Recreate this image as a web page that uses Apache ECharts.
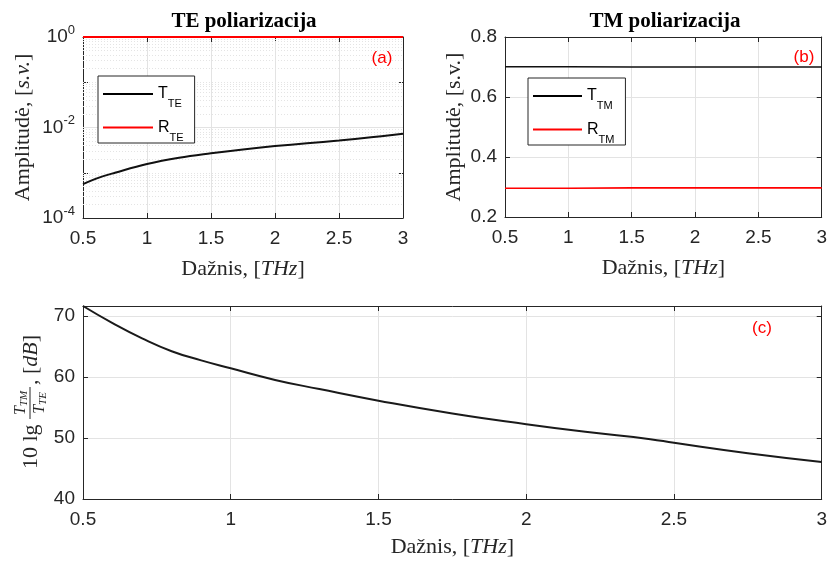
<!DOCTYPE html>
<html>
<head>
<meta charset="utf-8">
<script src="https://cdn.jsdelivr.net/npm/echarts@6/dist/echarts.min.js"></script>
<style>
  html, body { margin: 0; background: #fff; }
  #chart { width: 830px; height: 562px; }
</style>
</head>
<body>
<div id="chart"></div>
<script>
// (a) TE polarization, log axis
const freqA = [0.5, 0.625, 0.75, 1.0, 1.25, 1.5, 1.75, 2.0, 2.25, 2.5, 2.75, 3.0];
const tTE = [5.6e-4, 7.8e-4, 1.0e-3, 1.56e-3, 2.15e-3, 2.7e-3, 3.28e-3, 3.88e-3, 4.48e-3, 5.17e-3, 6.09e-3, 7.24e-3];
const rTE = [0.999, 0.999, 0.999, 0.999, 0.999, 0.999, 0.999, 0.999, 0.999, 0.999, 0.999, 0.999];

// (b) TM polarization
const freqB = [0.5, 1.0, 1.5, 2.0, 2.5, 3.0];
const tTM = [0.701, 0.701, 0.700, 0.700, 0.700, 0.700];
const rTM = [0.296, 0.296, 0.297, 0.297, 0.297, 0.297];

// (c) ratio in dB
const freqC = [0.5, 0.6, 0.7, 0.8, 0.9, 1.0, 1.15, 1.3, 1.5, 1.75, 2.0, 2.2, 2.42, 2.5, 2.75, 3.0];
const ratioDb = [71.6, 68.8, 66.3, 64.2, 62.7, 61.4, 59.5, 58.0, 56.1, 54.0, 52.25, 51.0, 49.8, 49.2, 47.5, 46.07];

const xTicks = { min: 0.5, max: 3, interval: 0.5 };
const AX = "#262626";
const GRID = "#e3e3e3";
const SANS = "Liberation Sans";
const SERIF = "Liberation Serif";

const zip = (xs, ys) => xs.map((x, i) => [x, ys[i]]);

// log grid lines for panel (a): solid at 10^-2, dotted elsewhere
const logGrid = [];
for (let e = -4; e < 0; e++) {
  for (let m = 1; m < 10; m++) {
    if (m === 1 && e === -4) continue;
    const major = m === 1 && e % 2 === 0;
    logGrid.push({
      yAxis: m * Math.pow(10, e),
      lineStyle: major
        ? { color: GRID, type: "solid", width: 1 }
        : { color: "#e4e4e4", type: [1, 2], width: 1 },
    });
  }
}

const nameStyle = {
  fontFamily: SERIF,
  fontSize: 22,
  color: AX,
  rich: { i: { fontFamily: SERIF, fontSize: 22, fontStyle: "italic", color: AX } },
};

function bottomAxis(gridIndex, nameGap) {
  return {
    type: "value",
    gridIndex,
    ...xTicks,
    axisLine: { show: true, onZero: false, lineStyle: { color: AX, width: 1 } },
    axisTick: { show: true, inside: true, length: 5, lineStyle: { color: AX } },
    axisLabel: { fontFamily: SANS, fontSize: 19, color: AX, margin: 11 },
    splitLine: { show: true, lineStyle: { color: GRID } },
    name: "Dažnis, [{i|THz}]",
    nameLocation: "middle",
    nameGap,
    nameTextStyle: nameStyle,
  };
}

function topAxis(gridIndex) {
  return {
    type: "value",
    gridIndex,
    position: "top",
    ...xTicks,
    axisLine: { show: true, onZero: false, lineStyle: { color: AX, width: 1 } },
    axisTick: { show: true, inside: true, length: 5, lineStyle: { color: AX } },
    axisLabel: { show: false },
    splitLine: { show: false },
  };
}

function legendBox(names, left, top, width) {
  return {
    data: names,
    orient: "vertical",
    left,
    top,
    icon: "rect",
    itemWidth: width,
    itemHeight: 2,
    itemGap: 10,
    padding: [10, 11, 0, 5],
    borderColor: AX,
    borderWidth: 1,
    borderRadius: 0,
    backgroundColor: "#fff",
    formatter: (n) => n[0] + "{s|" + n.slice(2) + "}",
    textStyle: {
      fontFamily: SANS,
      fontSize: 16,
      color: "#000",
      rich: { s: { fontFamily: SANS, fontSize: 11, color: "#000", padding: [20, 0, 0, 0] } },
    },
  };
}

const yLabelBase = { fontFamily: SANS, fontSize: 19, color: AX, margin: 8 };

const option = {
  animation: false,
  backgroundColor: "#fff",
  grid: [
    { left: 83, top: 37, width: 320, height: 181 },
    { left: 505, top: 37, width: 319, height: 180 },
    { left: 83, top: 306, width: 741, height: 193 },
  ],
  xAxis: [
    bottomAxis(0, 40),
    topAxis(0),
    bottomAxis(1, 40),
    topAxis(1),
    bottomAxis(2, 37),
    topAxis(2),
  ],
  yAxis: [
    {
      type: "log",
      gridIndex: 0,
      min: 1e-4,
      max: 1,
      logBase: 10,
      axisLine: { show: true, onZero: false, lineStyle: { color: AX } },
      axisTick: { show: true, inside: true, length: 5, lineStyle: { color: AX } },
      axisLabel: {
        ...yLabelBase,
        formatter: (v) => {
          const e = Math.round(Math.log10(v));
          return e % 2 === 0 ? "10{sup|" + e + "}" : "";
        },
        rich: { sup: { fontFamily: SANS, fontSize: 13, color: AX, padding: [0, 0, 14, 0] } },
      },
      splitLine: { show: false },
      name: "Amplitudė, [{i|s.v.}]",
      nameLocation: "middle",
      nameGap: 49,
      nameRotate: 90,
      nameTextStyle: nameStyle,
    },
    {
      type: "log",
      gridIndex: 0,
      position: "right",
      min: 1e-4,
      max: 1,
      logBase: 10,
      axisLine: { show: true, onZero: false, lineStyle: { color: AX } },
      axisTick: { show: true, inside: true, length: 5, lineStyle: { color: AX } },
      axisLabel: { show: false },
      splitLine: { show: false },
    },
    {
      type: "value",
      gridIndex: 1,
      min: 0.2,
      max: 0.8,
      interval: 0.2,
      axisLine: { show: true, onZero: false, lineStyle: { color: AX } },
      axisTick: { show: true, inside: true, length: 5, lineStyle: { color: AX } },
      axisLabel: { ...yLabelBase, formatter: (v) => v.toFixed(1) },
      splitLine: { show: true, lineStyle: { color: GRID } },
      name: "Amplitudė, [s.v.]",
      nameLocation: "middle",
      nameGap: 40,
      nameRotate: 90,
      nameTextStyle: nameStyle,
    },
    {
      type: "value",
      gridIndex: 1,
      position: "right",
      min: 0.2,
      max: 0.8,
      interval: 0.2,
      axisLine: { show: true, onZero: false, lineStyle: { color: AX } },
      axisTick: { show: true, inside: true, length: 5, lineStyle: { color: AX } },
      axisLabel: { show: false },
      splitLine: { show: false },
    },
    {
      type: "value",
      gridIndex: 2,
      min: 40,
      max: 71.6,
      interval: 10,
      axisLine: { show: true, onZero: false, lineStyle: { color: AX } },
      axisTick: { show: true, inside: true, length: 5, lineStyle: { color: AX } },
      axisLabel: { ...yLabelBase, formatter: (v) => (v % 10 === 0 ? String(v) : "") },
      splitLine: { show: true, lineStyle: { color: GRID } },
    },
    {
      type: "value",
      gridIndex: 2,
      position: "right",
      min: 40,
      max: 71.6,
      interval: 10,
      axisLine: { show: true, onZero: false, lineStyle: { color: AX } },
      axisTick: { show: true, inside: true, length: 5, lineStyle: { color: AX } },
      axisLabel: { show: false },
      splitLine: { show: false },
    },
  ],
  legend: [
    legendBox(["T_TE", "R_TE"], 98, 76, 50),
    legendBox(["T_TM", "R_TM"], 528, 78, 49),
  ],
  series: [
    {
      name: "R_TE",
      type: "line",
      xAxisIndex: 0,
      yAxisIndex: 0,
      data: zip(freqA, rTE),
      symbol: "none",
      color: "#ff0000",
      lineStyle: { color: "#ff0000", width: 1.8 },
      z: 3,
      markLine: {
        silent: true,
        z: 1,
        precision: 10,
        symbol: ["none", "none"],
        label: { show: false },
        emphasis: { disabled: true },
        data: logGrid,
      },
    },
    {
      name: "T_TE",
      type: "line",
      xAxisIndex: 0,
      yAxisIndex: 0,
      data: zip(freqA, tTE),
      smooth: 0.4,
      symbol: "none",
      color: "#000",
      lineStyle: { color: "#111", width: 2 },
      z: 3,
    },
    {
      name: "T_TM",
      type: "line",
      xAxisIndex: 2,
      yAxisIndex: 2,
      data: zip(freqB, tTM),
      symbol: "none",
      color: "#000",
      lineStyle: { color: "#111", width: 1.6 },
    },
    {
      name: "R_TM",
      type: "line",
      xAxisIndex: 2,
      yAxisIndex: 2,
      data: zip(freqB, rTM),
      symbol: "none",
      color: "#ff0000",
      lineStyle: { color: "#ff0000", width: 1.6 },
    },
    {
      name: "ratio",
      type: "line",
      xAxisIndex: 4,
      yAxisIndex: 4,
      data: zip(freqC, ratioDb),
      smooth: 0.5,
      symbol: "none",
      color: "#000",
      lineStyle: { color: "#1a1a1a", width: 2 },
    },
  ],
  graphic: [
    {
      type: "text", x: 244, y: 22,
      style: { text: "TE poliarizacija", font: 'bold 21px "Liberation Serif"', fill: "#000",
        textAlign: "center", textVerticalAlign: "middle", align: "center", verticalAlign: "middle" },
    },
    {
      type: "text", x: 665, y: 22,
      style: { text: "TM poliarizacija", font: 'bold 21px "Liberation Serif"', fill: "#000",
        textAlign: "center", textVerticalAlign: "middle", align: "center", verticalAlign: "middle" },
    },
    {
      type: "text", x: 382, y: 58, z: 10,
      style: { text: "(a)", font: '17px "Liberation Sans"', fill: "#ff0000",
        textAlign: "center", textVerticalAlign: "middle", align: "center", verticalAlign: "middle" },
    },
    {
      type: "text", x: 804, y: 57, z: 10,
      style: { text: "(b)", font: '17px "Liberation Sans"', fill: "#ff0000",
        textAlign: "center", textVerticalAlign: "middle", align: "center", verticalAlign: "middle" },
    },
    {
      type: "text", x: 762, y: 328, z: 10,
      style: { text: "(c)", font: '17px "Liberation Sans"', fill: "#ff0000",
        textAlign: "center", textVerticalAlign: "middle", align: "center", verticalAlign: "middle" },
    },
    // y label of (c): 10 lg (T_TM / T_TE), [dB]
    {
      type: "group",
      x: 31,
      y: 403,
      rotation: Math.PI / 2,
      children: [
        {
          type: "text", x: -66, y: 0,
          style: { text: "10 lg", font: '22px "Liberation Serif"', fill: AX,
            textAlign: "left", textVerticalAlign: "middle", align: "left", verticalAlign: "middle" },
        },
        {
          type: "text", x: 0, y: -10,
          style: {
            text: "T{s|TM}", fontFamily: SERIF, fontSize: 16, fontStyle: "italic", fill: AX,
            rich: { s: { fontFamily: SERIF, fontSize: 11, fontStyle: "italic", color: AX, padding: [6, 0, 0, 0] } },
            textAlign: "center", textVerticalAlign: "middle", align: "center", verticalAlign: "middle",
          },
        },
        {
          type: "line",
          shape: { x1: -16, y1: -1, x2: 16, y2: -1 },
          style: { stroke: AX, lineWidth: 1 },
        },
        {
          type: "text", x: 0, y: 9,
          style: {
            text: "T{s|TE}", fontFamily: SERIF, fontSize: 16, fontStyle: "italic", fill: AX,
            rich: { s: { fontFamily: SERIF, fontSize: 11, fontStyle: "italic", color: AX, padding: [6, 0, 0, 0] } },
            textAlign: "center", textVerticalAlign: "middle", align: "center", verticalAlign: "middle",
          },
        },
        {
          type: "text", x: 18, y: 0,
          style: {
            text: ", [{i|dB}]", fontFamily: SERIF, fontSize: 22, fill: AX,
            rich: { i: { fontFamily: SERIF, fontSize: 22, fontStyle: "italic", color: AX } },
            textAlign: "left", textVerticalAlign: "middle", align: "left", verticalAlign: "middle",
          },
        },
      ],
    },
  ],
};

const chart = echarts.init(document.getElementById("chart"), null, { renderer: "canvas" });
chart.setOption(option);
</script>
</body>
</html>
